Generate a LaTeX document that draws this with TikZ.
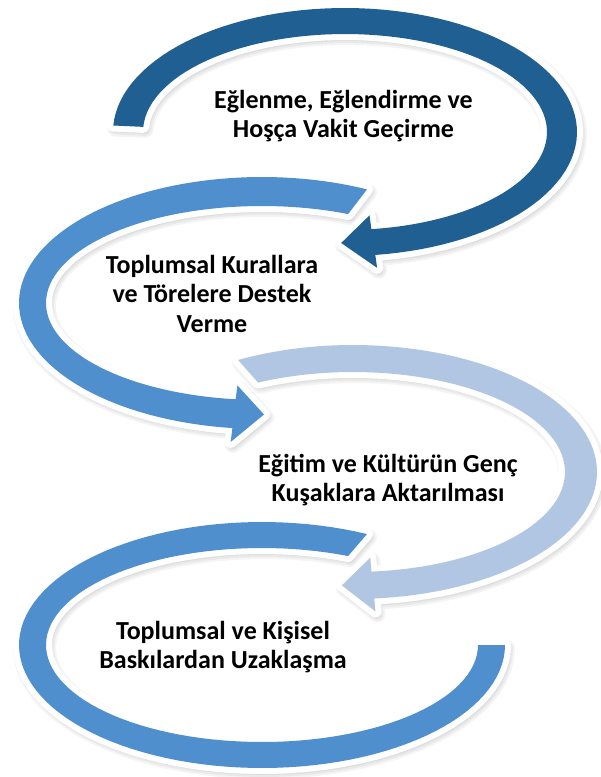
\documentclass[tikz,border=0pt]{standalone}
\usepackage{fontspec}
\setmainfont{Carlito}
\definecolor{cdark}{RGB}{31,95,145}
\definecolor{cmid}{RGB}{79,143,206}
\definecolor{clight}{RGB}{177,198,226}

% Arrow 1 (dark): clockwise, flat start on the left, head at the bottom pointing left
\newcommand\arrowone[1]{%
 \path[#1] plot[domain=183:442.5,samples=90] ({345+232*cos(\x)},{132+124*sin(\x)})
   -- ({345+246*cos(442.5)},{132+137*sin(442.5)})
   -- ({345+217*cos(451)},{132+111*sin(451)})
   -- ({345+188*cos(442.5)},{132+84*sin(442.5)})
   -- plot[domain=442.5:183,samples=90] ({345+202*cos(\x)},{132+98*sin(\x)}) -- cycle;}
% Arrow 2 (mid): counter-clockwise, head at the bottom pointing right
\newcommand\arrowtwo[1]{%
 \path[#1] plot[domain=295.6:97,samples=90] ({262+243*cos(\x)},{303+126*sin(\x)})
   -- ({262+257*cos(97)},{303+140*sin(97)})
   -- ({262+229.5*cos(89.5)},{303+111.5*sin(89.5)})
   -- ({262+202*cos(97)},{303+83*sin(97)})
   -- plot[domain=97:293.5,samples=90] ({262+216*cos(\x)},{303+97*sin(\x)}) -- cycle;}
% Arrow 3 (light): clockwise, head at the bottom pointing left
\newcommand\arrowthree[1]{%
 \path[#1] plot[domain=241.9:445,samples=90] ({353+244*cos(\x)},{472+127*sin(\x)})
   -- ({353+258*cos(445)},{472+140*sin(445)})
   -- ({353+228*cos(452.8)},{472+113.5*sin(452.8)})
   -- ({353+198*cos(445)},{472+86*sin(445)})
   -- plot[domain=445:243.4,samples=90] ({353+212*cos(\x)},{472+100*sin(\x)}) -- cycle;}
% Arrow 4 (mid): counter-clockwise, flat end on the right, no head
\newcommand\arrowfour[1]{%
 \path[#1] plot[domain=295.6:0,samples=100] ({262+243*cos(\x)},{645+123*sin(\x)})
   -- plot[domain=0:293.5,samples=100] ({262+216*cos(\x)},{645+97*sin(\x)}) -- cycle;}

\tikzset{
  shad/.style={draw=black, line width=#1, line join=round, opacity=0.045, shift={(2,3)}},
  rim/.style={draw=white, line width=12, line join=round},
  lbl/.style={anchor=base, inner sep=0pt, text=black,
              font=\fontsize{26}{29.5}\selectfont\bfseries}
}

\begin{document}
\begin{tikzpicture}[x=1pt,y=-1pt]
\useasboundingbox (0,0) rectangle (601,777);
\fill[white] (0,0) rectangle (601,777);

% soft shadows
\foreach \w in {16,12,8}{
  \arrowone{shad=\w}
  \arrowtwo{shad=\w}
  \arrowthree{shad=\w}
  \arrowfour{shad=\w}
}

% arrows with white rims
\arrowone{rim}   \arrowone{fill=cdark}
\arrowtwo{rim}   \arrowtwo{fill=cmid}
\arrowthree{rim} \arrowthree{fill=clight}
\arrowfour{rim}  \arrowfour{fill=cmid}

% labels
\node[lbl] (t1) at (343.5,108) {\begin{tabular}[t]{@{}c@{}}Eğlenme, Eğlendirme ve\\Hoşça Vakit Geçirme\end{tabular}};
\node[lbl] (t2) at (212,273) {\begin{tabular}[t]{@{}c@{}}Toplumsal Kurallara\\ve Törelere Destek\\Verme\end{tabular}};
\node[lbl] (t3) at (388,472) {\begin{tabular}[t]{@{}c@{}}Eğitim ve Kültürün Genç\\Kuşaklara Aktarılması\end{tabular}};
\node[lbl] (t4) at (223,639) {\begin{tabular}[t]{@{}c@{}}Toplumsal ve Kişisel\\Baskılardan Uzaklaşma\end{tabular}};
\end{tikzpicture}
\end{document}
